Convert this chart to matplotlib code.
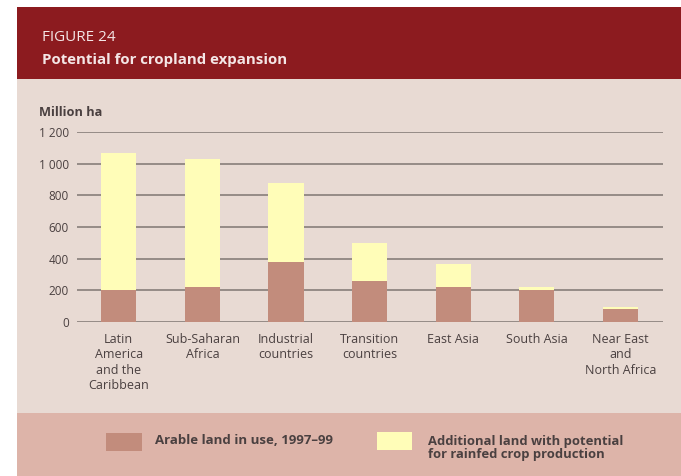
import matplotlib
matplotlib.use("Agg")
import matplotlib.pyplot as plt
from matplotlib.patches import Rectangle
from matplotlib.ticker import FuncFormatter

plt.rcParams['font.family'] = ['Open Sans', 'DejaVu Sans']

categories = ["Latin\nAmerica\nand the\nCaribbean", "Sub-Saharan\nAfrica", "Industrial\ncountries",
              "Transition\ncountries", "East Asia", "South Asia", "Near East\nand\nNorth Africa"]
arable = [200, 222, 380, 258, 222, 203, 80]
additional = [870, 810, 495, 243, 146, 15, 15]
yticks = [0, 200, 400, 600, 800, 1000, 1200]
legend_labels = ["Arable land in use, 1997\u201399",
                 "Additional land with potential\nfor rainfed crop production"]

C_ARABLE = "#C28C7C"
C_ADD = "#FFFDB8"
C_HEADER = "#8C1B1F"
C_PANEL = "#E8DAD3"
C_LEGBAND = "#DDB4A9"
C_GRID = "#8F8580"
C_TEXT = "#4A4040"

W, H = 681, 476
fig = plt.figure(figsize=(W / 100, H / 100), dpi=100)
fig.patch.set_facecolor("white")

def fx(px):
    return px / W

def fy(py):
    return 1 - py / H

# Background panels
for (x0, y0, x1, y1, c) in [(17, 413, W, 79, C_PANEL), (17, H, W, 413, C_LEGBAND), (17, 79, W, 7, C_HEADER)]:
    fig.patches.append(Rectangle((fx(x0), fy(y0)), fx(x1) - fx(x0), fy(y1) - fy(y0),
                                 transform=fig.transFigure, facecolor=c, edgecolor="none", zorder=-10))

fig.text(fx(42), fy(38), "FIGURE 24", color="#F4E6E6", fontsize=11, va="center", ha="left")
fig.text(fx(42), fy(60), "Potential for cropland expansion", color="#F4E6E6", fontsize=10.8,
         fontweight="bold", va="center", ha="left")

ax = fig.add_axes([fx(77), fy(322), fx(663) - fx(77), fy(132) - fy(322)])
ax.set_facecolor("none")
ax.set_zorder(5)
x = list(range(len(categories)))
ax.bar(x, arable, width=0.42, color=C_ARABLE, zorder=3)
ax.bar(x, additional, width=0.42, bottom=arable, color=C_ADD, zorder=3)
ax.set_xlim(-0.5, 6.51)
ax.set_ylim(0, 1200)
ax.set_yticks(yticks)
ax.yaxis.set_major_formatter(FuncFormatter(lambda v, p: f"{int(v):,}".replace(",", " ")))
ax.grid(axis="y", color=C_GRID, linewidth=1.3, zorder=1)
ax.set_axisbelow(True)
for s in ax.spines.values():
    s.set_visible(False)
ax.tick_params(axis="y", length=0, pad=6, labelsize=8.5, labelcolor=C_TEXT)
ax.tick_params(axis="x", length=0, pad=0)
ax.set_xticks(x)
ax.set_xticklabels([])
for xi, lab in zip(x, categories):
    ax.annotate(lab, xy=(xi, 0), xycoords="data", xytext=(0, -8), textcoords="offset points",
                ha="center", va="top", fontsize=9, color=C_TEXT, linespacing=1.23,
                annotation_clip=False)

fig.text(fx(39), fy(113), "Million ha", fontsize=9.2, fontweight="bold", color=C_TEXT,
         va="center", ha="left")

# Legend
fig.patches.append(Rectangle((fx(106), fy(451)), fx(142) - fx(106), fy(433) - fy(451),
                             transform=fig.transFigure, facecolor=C_ARABLE, edgecolor="none"))
fig.patches.append(Rectangle((fx(377), fy(450)), fx(412) - fx(377), fy(432) - fy(450),
                             transform=fig.transFigure, facecolor=C_ADD, edgecolor="none"))
fig.text(fx(155), fy(441), legend_labels[0], fontsize=9.5, fontweight="bold", color=C_TEXT,
         va="center", ha="left")
fig.text(fx(428), fy(448), legend_labels[1], fontsize=9.4, fontweight="bold", color=C_TEXT,
         va="center", ha="left", linespacing=0.95)

fig.savefig("out.png", dpi=100)
